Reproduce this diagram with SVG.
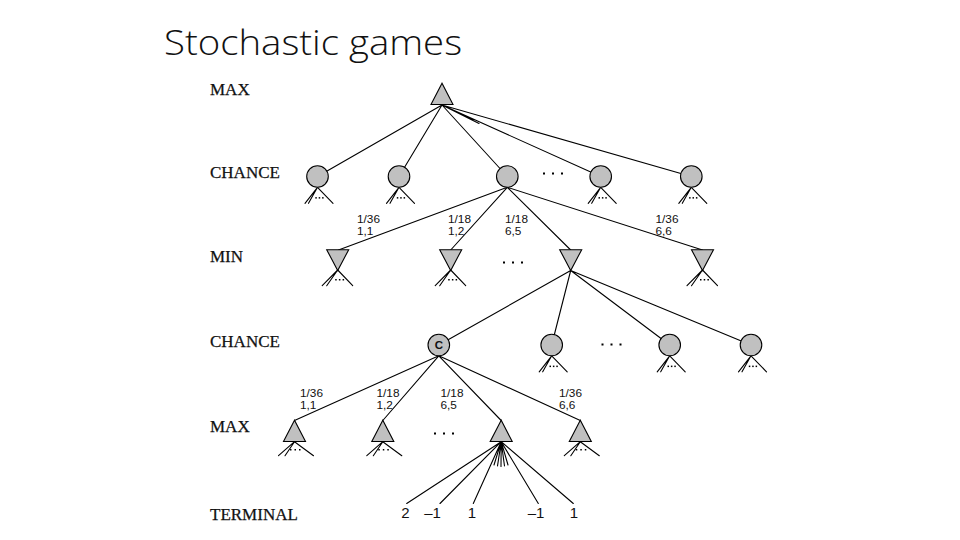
<svg xmlns="http://www.w3.org/2000/svg" width="960" height="540" viewBox="0 0 960 540">
<style>
.e{stroke:#000;stroke-width:1.1;fill:none;stroke-linecap:round}
.n{fill:#c0c0c0;stroke:#000;stroke-width:1.1}
.d{fill:#000}
.lvl{font-family:"Liberation Serif","Times New Roman",serif;font-size:17px;fill:#111;stroke:#111;stroke-width:0.25}
.lab{font-family:"Liberation Sans",Arial,sans-serif;font-size:11.8px;fill:#111}
.term{font-family:"Liberation Sans",Arial,sans-serif;font-size:15px;fill:#111;text-anchor:middle}
.title{font-family:"Open Sans","Liberation Sans",sans-serif;font-weight:300;font-size:35px;fill:#111}
</style>
<defs>
<g id="stubC"><path class="e" d="M0,0L-12.5,16M0,0L-9,16M0,0L15.5,16"/><rect class="d" x="-2.2" y="9.8" width="1.5" height="1.5"/><rect class="d" x="1.2" y="9.8" width="1.5" height="1.5"/><rect class="d" x="4.6" y="9.8" width="1.5" height="1.5"/></g>
<g id="stubN"><path class="e" d="M0,0L-15.5,15.7M0,0L-11,15.7M0,0L15,15.7"/><rect class="d" x="-2.5" y="9" width="1.5" height="1.5"/><rect class="d" x="1.2" y="9" width="1.5" height="1.5"/><rect class="d" x="4.9" y="9" width="1.5" height="1.5"/></g>
<g id="stubX"><path class="e" d="M0,0L-16,14M0,0L-9.5,14M0,0L19,14"/><rect class="d" x="-4.5" y="7.3" width="1.5" height="1.5"/><rect class="d" x="0" y="7.3" width="1.5" height="1.5"/><rect class="d" x="4.5" y="7.3" width="1.5" height="1.5"/></g>
<polygon id="tmax" class="n" points="0,-10.7 -11,10.5 11,10.5"/>
<polygon id="tmin" class="n" points="-11,-10.3 11,-10.3 0,10.5"/>
<circle id="ch" class="n" r="10.8"/>
<g id="dots"><rect class="d" x="0" y="-1" width="2" height="2"/><rect class="d" x="9" y="-1" width="2" height="2"/><rect class="d" x="18" y="-1" width="2" height="2"/></g>
</defs>

<text class="title" x="164" y="55" textLength="298" lengthAdjust="spacingAndGlyphs">Stochastic games</text>

<g id="levels">
<text class="lvl" x="210" y="95">MAX</text>
<text class="lvl" x="210" y="177.5">CHANCE</text>
<text class="lvl" x="210" y="261.5">MIN</text>
<text class="lvl" x="210" y="346.5">CHANCE</text>
<text class="lvl" x="210" y="431.5">MAX</text>
<text class="lvl" x="210" y="520">TERMINAL</text>
</g>

<g id="connectors" class="e">
<path d="M442,105L317.5,176.5M442,105L399,176.5M442,105L507.3,176.5M442,105L600.7,176.5M442,105L691.3,176.5M442,105L467,116.5M442,105L473,120M442,105L479,123.5"/>
<path d="M507.3,187.3L338.5,250M507.3,187.3L450.7,250M507.3,187.3L570.7,250M507.3,187.3L702.5,250"/>
<path d="M570.7,270.5L438.8,345M570.7,270.5L551.7,345M570.7,270.5L669.7,345M570.7,270.5L751,345"/>
<path d="M438.8,355.8L294.5,420.5M438.8,355.8L382.8,420.5M438.8,355.8L501.2,420.5M438.8,355.8L580.3,420.5"/>
<path d="M501.2,441.7L406.7,503.5M501.2,441.7L440,503.5M501.2,441.7L473.3,503.5M501.2,441.7L538.3,503.5M501.2,441.7L573.3,503.5M501.2,441.7L494,465M501.2,441.7L497.5,466M501.2,441.7L501,466.5M501.2,441.7L504.5,466M501.2,441.7L508,465"/>
</g>

<g id="edge-labels">
<text class="lab" x="357" y="223">1/36<tspan x="357" dy="12.2">1,1</tspan></text>
<text class="lab" x="448" y="223">1/18<tspan x="448" dy="12.2">1,2</tspan></text>
<text class="lab" x="505" y="223">1/18<tspan x="505" dy="12.2">6,5</tspan></text>
<text class="lab" x="655.5" y="223">1/36<tspan x="655.5" dy="12.2">6,6</tspan></text>
<text class="lab" x="300" y="397">1/36<tspan x="300" dy="12.2">1,1</tspan></text>
<text class="lab" x="376.5" y="397">1/18<tspan x="376.5" dy="12.2">1,2</tspan></text>
<text class="lab" x="440.5" y="397">1/18<tspan x="440.5" dy="12.2">6,5</tspan></text>
<text class="lab" x="559" y="397">1/36<tspan x="559" dy="12.2">6,6</tspan></text>
</g>

<g id="max-root"><use href="#tmax" x="442" y="94"/></g>

<g id="chance1-1"><use href="#stubC" x="317.5" y="187.3"/><use href="#ch" x="317.5" y="176.5"/></g>
<g id="chance1-2"><use href="#stubC" x="399" y="187.3"/><use href="#ch" x="399" y="176.5"/></g>
<g id="chance1-3"><use href="#ch" x="507.3" y="176.5"/></g>
<g id="chance1-4"><use href="#stubC" x="600.7" y="187.3"/><use href="#ch" x="600.7" y="176.5"/></g>
<g id="chance1-5"><use href="#stubC" x="691.3" y="187.3"/><use href="#ch" x="691.3" y="176.5"/></g>
<g id="dots1"><use href="#dots" x="543" y="173.5"/></g>

<g id="min-1"><use href="#stubN" x="337.7" y="270"/><use href="#tmin" x="337.7" y="260"/></g>
<g id="min-2"><use href="#stubN" x="450.7" y="270"/><use href="#tmin" x="450.7" y="260"/></g>
<g id="min-3"><use href="#tmin" x="570.7" y="260"/></g>
<g id="min-4"><use href="#stubN" x="702.5" y="270"/><use href="#tmin" x="702.5" y="260"/></g>
<g id="dots2"><use href="#dots" x="503" y="262.5"/></g>

<g id="chance2-c"><use href="#ch" x="438.8" y="345"/><text x="438.8" y="349" text-anchor="middle" style="font-family:'Liberation Sans',Arial,sans-serif;font-weight:bold;font-size:11.5px;fill:#111">C</text></g>
<g id="chance2-2"><use href="#stubC" x="551.7" y="355.8"/><use href="#ch" x="551.7" y="345"/></g>
<g id="chance2-3"><use href="#stubC" x="669.7" y="355.8"/><use href="#ch" x="669.7" y="345"/></g>
<g id="chance2-4"><use href="#stubC" x="751" y="355.8"/><use href="#ch" x="751" y="345"/></g>
<g id="dots3"><use href="#dots" x="601.5" y="344.5"/></g>

<g id="max2-1"><use href="#stubX" x="294.5" y="441.7"/><use href="#tmax" x="294.5" y="431"/></g>
<g id="max2-2"><use href="#stubX" x="382.8" y="441.7"/><use href="#tmax" x="382.8" y="431"/></g>
<g id="max2-3"><use href="#tmax" x="501.2" y="431"/></g>
<g id="max2-4"><use href="#stubX" x="580.3" y="441.7"/><use href="#tmax" x="580.3" y="431"/></g>
<g id="dots4"><use href="#dots" x="434" y="433.5"/></g>

<g id="terminals">
<text class="term" x="405.3" y="518">2</text>
<text class="term" x="432.5" y="518">–1</text>
<text class="term" x="472" y="518">1</text>
<text class="term" x="536" y="518">–1</text>
<text class="term" x="574" y="518">1</text>
</g>
</svg>
